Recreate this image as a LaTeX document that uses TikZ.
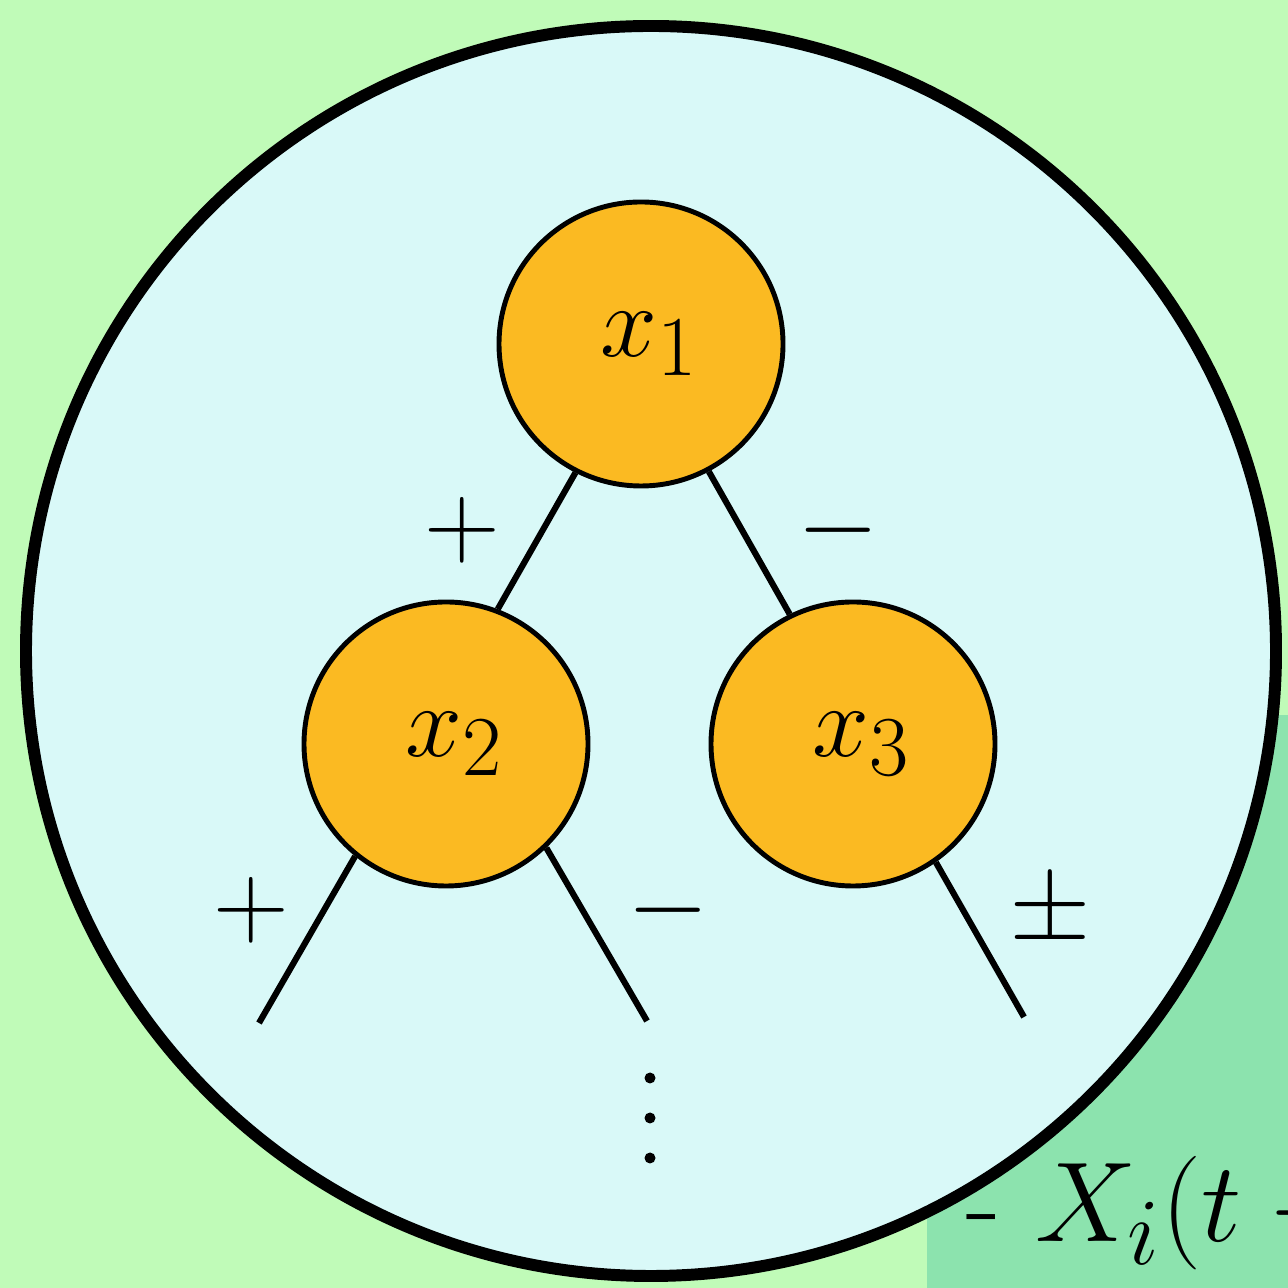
\documentclass[tikz,border=0pt]{standalone}
\usepackage{amsmath,amssymb}
\usepackage{tikz}
\usetikzlibrary{positioning,calc}
\definecolor{bggreen}{RGB}{192,251,184}
\definecolor{boxgreen}{RGB}{140,227,174}
\definecolor{disc}{RGB}{217,249,248}
\definecolor{ndorange}{RGB}{251,186,34}
\newcommand{\ndtxt}[1]{\scalebox{1.17}{$\mkern3mu#1$}}
\newcommand{\sgntxt}[1]{\scalebox{1.2}{$#1$}}
\tikzset{
  nd/.style   = {circle, draw, fill=ndorange, minimum size=2.84cm, inner sep=0pt,
                 line width=1.4pt, font=\fontsize{24.88}{30}\selectfont},
  edg/.style  = {line width=1.75pt},
  sgn/.style  = {font=\fontsize{24.88}{30}\selectfont},
  dot/.style  = {circle, fill=black, minimum size=1.1mm, inner sep=0pt},
}
\begin{document}
\begin{tikzpicture}
  \useasboundingbox (0,0) rectangle (12.88,12.88);
  \clip (0,0) rectangle (12.88,12.88);
  \fill[bggreen] (0,0) rectangle (12.88,12.88);
  \fill[boxgreen] (9.27,0) rectangle (12.88,5.73);
  \node[anchor=base west, inner sep=0pt, font=\fontsize{24.88}{30}\selectfont] (lbl) at (9.66,0.46)
    {\scalebox{1.3}{- $X_i(t -{}$}};
  \node[circle, draw, fill=disc, line width=3.4pt, minimum size=12.5cm, inner sep=0pt] (big) at (6.51,6.37) {};
  % tree
  \node[nd] (x1) at (6.41,9.44) {\ndtxt{x_1}};
  \node[nd] (x2) at (4.46,5.44) {\ndtxt{x_2}};
  \node[nd] (x3) at (8.53,5.44) {\ndtxt{x_3}};
  \coordinate (l1) at (2.59,2.65);
  \coordinate (l2) at (6.47,2.67);
  \coordinate (l3) at (10.24,2.71);
  \draw[edg] (x1.-117) -- (x2.69);
  \draw[edg] (x1.-62) -- (x3.116);
  \draw[edg] (x2.-129) -- (l1);
  \draw[edg] (x2.-46) -- (l2);
  \draw[edg] (x3.-55) -- (l3);
  \node[sgn] (s1) at (4.62,7.58) {\sgntxt{+}};
  \node[sgn] (s2) at (8.38,7.58) {\sgntxt{-}};
  \node[sgn] (s3) at (2.51,3.78) {\sgntxt{+}};
  \node[sgn] (s4) at (6.68,3.78) {\sgntxt{-}};
  \node[sgn] (s5) at (10.50,3.75) {\sgntxt{\pm}};
  \node[dot] (d1) at (6.50,2.10) {};
  \node[dot] (d2) at (6.50,1.70) {};
  \node[dot] (d3) at (6.50,1.30) {};
\end{tikzpicture}
\end{document}
